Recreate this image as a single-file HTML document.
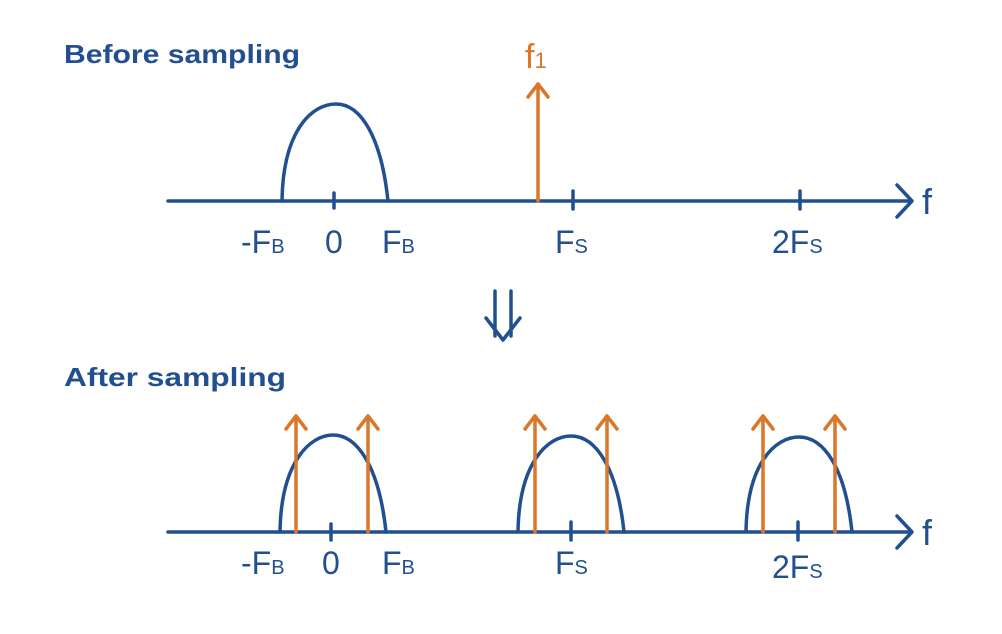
<!DOCTYPE html>
<html><head><meta charset="utf-8"><style>
html,body{margin:0;padding:0;background:#fff;}
svg{display:block;}
text{font-family:"Liberation Sans",sans-serif;}
</style></head><body>
<svg width="1002" height="634" viewBox="0 0 1002 634" xmlns="http://www.w3.org/2000/svg">
<g fill="#214f8f" font-size="26" font-weight="bold">
<text x="64" y="63" textLength="236" lengthAdjust="spacingAndGlyphs">Before sampling</text>
<text x="64" y="386" textLength="222" lengthAdjust="spacingAndGlyphs">After sampling</text>
</g>
<g stroke="#214f8f" stroke-width="3.5" fill="none" stroke-linecap="round" stroke-linejoin="round">
<line x1="168" y1="201" x2="911" y2="201"/>
<polyline points="897,185 912,201 897,217"/>
<path d="M282,201 C283,130 312,104 336,104 C360,104 381,135 388,201"/>
<line x1="334" y1="193" x2="334" y2="208"/>
<line x1="573" y1="191" x2="573" y2="209"/>
<line x1="800" y1="191" x2="800" y2="209"/>
<line x1="495" y1="291" x2="495" y2="336"/>
<line x1="511" y1="291" x2="511" y2="336"/>
<polyline points="486,318 503,340 520,318"/>
<line x1="168" y1="532" x2="911" y2="532"/>
<polyline points="897,516 912,532 897,548"/>
<path d="M280,532 C281,462 310,435 333,435 C357,435 379,466 386,532"/>
<path d="M518,532 C519,462 548,436 571,436 C595,436 617,466 624,532"/>
<path d="M746,532 C747,462 776,437 799,437 C823,437 845,466 852,532"/>
<line x1="331" y1="524" x2="331" y2="540"/>
<line x1="571" y1="522" x2="571" y2="540"/>
<line x1="798" y1="522" x2="798" y2="540"/>
</g>
<g stroke="#d9772a" stroke-width="3.5" fill="none" stroke-linecap="round" stroke-linejoin="round">
<line x1="538" y1="201" x2="538" y2="84"/>
<polyline points="528,97 538,84 548,97"/>
<line x1="296" y1="532" x2="296" y2="416"/><polyline points="286,429 296,416 306,429"/>
<line x1="368" y1="532" x2="368" y2="416"/><polyline points="358,429 368,416 378,429"/>
<line x1="535" y1="532" x2="535" y2="416"/><polyline points="525,429 535,416 545,429"/>
<line x1="607" y1="532" x2="607" y2="416"/><polyline points="597,429 607,416 617,429"/>
<line x1="763" y1="532" x2="763" y2="416"/><polyline points="753,429 763,416 773,429"/>
<line x1="835" y1="532" x2="835" y2="416"/><polyline points="825,429 835,416 845,429"/>
</g>
<text x="525" y="68" fill="#d9772a" font-size="34">f<tspan font-size="22">1</tspan></text>
<g fill="#214f8f">
<text x="922" y="214" font-size="36">f</text>
<text x="922" y="545" font-size="36">f</text>
<g font-size="32">
<text x="241" y="253">-F<tspan font-size="20">B</tspan></text>
<text x="325" y="253">0</text>
<text x="382" y="253">F<tspan font-size="20">B</tspan></text>
<text x="555" y="253">F<tspan font-size="20">S</tspan></text>
<text x="772" y="253">2F<tspan font-size="20">S</tspan></text>
<text x="241" y="574">-F<tspan font-size="20">B</tspan></text>
<text x="322" y="574">0</text>
<text x="382" y="574">F<tspan font-size="20">B</tspan></text>
<text x="555" y="574">F<tspan font-size="20">S</tspan></text>
<text x="772" y="578">2F<tspan font-size="20">S</tspan></text>
</g>
</g>
</svg>
</body></html>
